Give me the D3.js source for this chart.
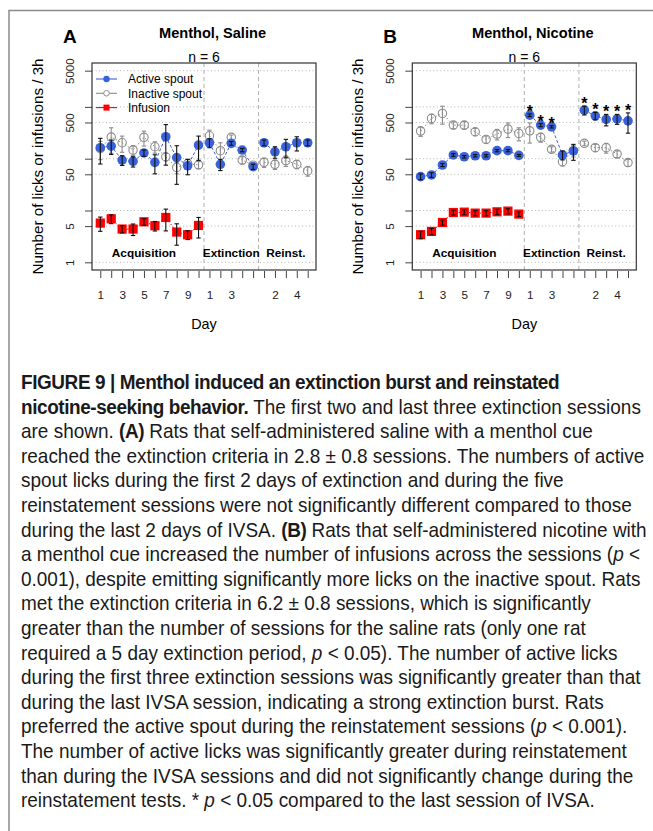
<!DOCTYPE html>
<html>
<head>
<meta charset="utf-8">
<script src="https://cdn.jsdelivr.net/npm/d3@7"></script>
<style>
  body { margin: 0; background: #fff; }
  svg { display: block; font-family: "Liberation Sans", Arial, sans-serif; }
</style>
</head>
<body>
<script>
// x categories: 10 acquisition, 5 extinction, 5 reinstatement sessions
const days = [1, 2, 3, 4, 5, 6, 7, 8, 9, 10, 11, 12, 13, 14, 15, 16, 17, 18, 19, 20];
const dayLabels = ["1", "", "3", "", "5", "", "7", "", "9", "", "1", "", "3", "", "", "", "2", "", "4", ""];
const phaseNames = ["Acquisition", "Extinction", "Reinst."];
const phaseCenters = [5, 13, 18];
const phaseBreaks = [10.5, 15.5];
const phaseRuns = [[1, 10], [11, 15], [16, 20]];
const yTicks = [1, 5, 10, 50, 100, 500, 1000, 5000];
const yTickLabels = [1, 5, 50, 500, 5000];

// A: menthol + saline
const salineActive = [163, 175, 94, 89, 129, 85, 265, 105, 73, 183, 203, 78, 198, 147, 70, 203, 136, 170, 203, 203];
const salineActiveSem = [84, 54, 20, 20, 18, 34, 190, 73, 24, 90, 40, 19, 16, 11, 8, 26, 34, 66, 62, 26];
const salineInactive = [156, 261, 203, 147, 258, 170, 109, 68, 80, 76, 277, 143, 258, 94, 75, 85, 78, 92, 78, 58];
const salineInactiveSem = [60, 134, 70, 31, 83, 42, 18, 17, 17, 12, 79, 60, 28, 15, 9, 17, 16, 21, 14, 12];
const salineInfusion = [5.72, 6.92, 4.39, 4.39, 6.06, 5.08, 7.34, 3.84, 3.41, 5.15];
const salineInfusionSem = [1.75, 1.34, 0.7, 1.1, 0.86, 1.06, 3.3, 1.7, 0.66, 2.2];

// B: menthol + nicotine
const nicotineActive = [45, 48.6, 75.6, 118, 109, 114, 114, 143, 143, 116, 692, 445, 412, 118, 141, 864, 671, 573, 588, 538];
const nicotineActiveSem = [5.7, 5, 5, 7, 6, 6, 6, 7, 7, 5, 40, 30, 20, 23, 48, 166, 110, 143, 128, 227];
const nicotineInactive = [341, 598, 747, 445, 445, 331, 236, 299, 373, 308, 345, 258, 152, 87.5, 143, 198, 163, 163, 123, 84];
const nicotineInactiveSem = [71, 126, 283, 69, 75, 54, 37, 69, 117, 87, 145, 50, 18, 15, 35, 20, 26, 35, 18, 13];
const nicotineInfusion = [3.41, 3.95, 5.88, 9.15, 9.3, 8.91, 8.91, 9.44, 9.73, 8.53];
const nicotineInfusionSem = [0.55, 0.55, 0.7, 1.0, 1.0, 1.0, 1.0, 1.1, 1.1, 0.9];
const nicotineStars = [11, 12, 13, 16, 17, 18, 19, 20];

const blue = "#3a62d8";
const grey = "#8c8c8c";
const red = "#ff0000";

const svg = d3.select("body").append("svg")
    .attr("width", 653)
    .attr("height", 831);

svg.append("path")
    .attr("d", "M9,831 V10.5 H653")
    .attr("fill", "none")
    .attr("stroke", "#8a8a8a")
    .attr("stroke-width", 1.5);

const panels = [
    { letter: "A", title: "Menthol, Saline", left: 92, active: salineActive, activeSem: salineActiveSem,
      inactive: salineInactive, inactiveSem: salineInactiveSem, infusion: salineInfusion, infusionSem: salineInfusionSem,
      stars: [], legend: true },
    { letter: "B", title: "Menthol, Nicotine", left: 412.3, active: nicotineActive, activeSem: nicotineActiveSem,
      inactive: nicotineInactive, inactiveSem: nicotineInactiveSem, infusion: nicotineInfusion, infusionSem: nicotineInfusionSem,
      stars: nicotineStars, legend: false }
];

const plotW = 224, plotTop = 63, plotBottom = 270;

panels.forEach(p => {
    const x = d3.scaleLinear().domain([0.24, 20.76]).range([p.left, p.left + plotW]);
    const y = d3.scaleLog().domain([0.711, 7030]).range([plotBottom, plotTop]);
    const g = svg.append("g");
    const cx = p.left + plotW / 2;

    // grid
    g.selectAll(".grid").data(yTicks).enter().append("line")
        .attr("x1", p.left).attr("x2", p.left + plotW)
        .attr("y1", d => y(d)).attr("y2", d => y(d))
        .attr("stroke", "#b5b5b5").attr("stroke-dasharray", "1,2.5");
    g.selectAll(".brk").data(phaseBreaks).enter().append("line")
        .attr("x1", d => x(d)).attr("x2", d => x(d))
        .attr("y1", plotTop).attr("y2", plotBottom)
        .attr("stroke", "#b0b0b0").attr("stroke-dasharray", "4,3");

    // axes
    const yAxis = d3.axisLeft(y).tickValues(yTicks).tickSize(7)
        .tickFormat(d => yTickLabels.includes(d) ? d : "");
    const ya = g.append("g").attr("transform", `translate(${p.left},0)`).call(yAxis);
    ya.select(".domain").remove();
    ya.selectAll("line").attr("stroke", "#444");
    ya.selectAll("text")
        .attr("x", -22).attr("y", 0).attr("dy", "0.35em")
        .attr("transform", "rotate(-90,-22,0)")
        .attr("text-anchor", "middle").attr("fill", "#222")
        .style("font-size", "11.5px").style("font-family", "Liberation Sans, Arial, sans-serif");

    const xAxis = d3.axisBottom(x).tickValues(days).tickSize(7).tickPadding(13)
        .tickFormat((d, i) => dayLabels[i]);
    const xa = g.append("g").attr("transform", `translate(0,${plotBottom + 1})`).call(xAxis);
    xa.select(".domain").remove();
    xa.selectAll("line").attr("stroke", "#444");
    xa.selectAll("text").attr("fill", "#222").style("font-size", "11.7px").style("font-family", "Liberation Sans, Arial, sans-serif");

    g.append("rect")
        .attr("x", p.left).attr("y", plotTop).attr("width", plotW).attr("height", plotBottom - plotTop)
        .attr("fill", "none").attr("stroke", "#333").attr("stroke-width", 1.2);

    // phase labels
    g.selectAll(".phase").data(phaseNames).enter().append("text")
        .attr("x", (d, i) => x(phaseCenters[i])).attr("y", 257)
        .attr("text-anchor", "middle").style("font-weight", "bold").style("font-size", "11.8px")
        .text(d => d);

    // connecting lines, split by phase
    const runs = (vals) => phaseRuns
        .map(([a, b]) => days.filter(d => d >= a && d <= b && d <= vals.length).map(d => [d, vals[d - 1]]))
        .filter(r => r.length > 1);
    const line = d3.line().x(d => x(d[0])).y(d => y(d[1]));
    g.selectAll(".lin").data(runs(p.inactive)).enter().append("path")
        .attr("d", line).attr("fill", "none").attr("stroke", grey).attr("stroke-dasharray", "1.5,2");
    g.selectAll(".lia").data(runs(p.infusion)).enter().append("path")
        .attr("d", line).attr("fill", "none").attr("stroke", red).attr("stroke-dasharray", "1.5,2");
    g.selectAll(".lac").data(runs(p.active)).enter().append("path")
        .attr("d", line).attr("fill", "none").attr("stroke", blue).attr("stroke-dasharray", "3,2");

    const errBars = (vals, sems, color) => {
        const eg = g.append("g").attr("stroke", color).attr("stroke-width", 1.1);
        vals.forEach((v, i) => {
            const xx = x(days[i]);
            const lo = y(Math.max(v - sems[i], 0.8)), hi = y(v + sems[i]);
            eg.append("line").attr("x1", xx).attr("x2", xx).attr("y1", lo).attr("y2", hi);
            eg.append("line").attr("x1", xx - 2.2).attr("x2", xx + 2.2).attr("y1", hi).attr("y2", hi);
            eg.append("line").attr("x1", xx - 2.2).attr("x2", xx + 2.2).attr("y1", lo).attr("y2", lo);
        });
    };

    // inactive
    g.selectAll(".pin").data(p.inactive).enter().append("circle")
        .attr("cx", (d, i) => x(days[i])).attr("cy", d => y(d)).attr("r", 4.2)
        .attr("fill", "none").attr("stroke", grey).attr("stroke-width", 1.1);
    errBars(p.inactive, p.inactiveSem, grey);

    // infusions
    g.selectAll(".pif").data(p.infusion).enter().append("rect")
        .attr("x", (d, i) => x(days[i]) - 4.6).attr("y", d => y(d) - 4.6)
        .attr("width", 9.2).attr("height", 9.2).attr("fill", red);
    errBars(p.infusion, p.infusionSem, "#111");

    // active
    g.selectAll(".pac").data(p.active).enter().append("circle")
        .attr("cx", (d, i) => x(days[i])).attr("cy", d => y(d)).attr("r", 4.8)
        .attr("fill", blue);
    errBars(p.active, p.activeSem, "#111");

    // significance
    g.selectAll(".star").data(p.stars).enter().append("text")
        .attr("x", d => x(d)).attr("y", d => y(p.active[d - 1] + p.activeSem[d - 1]) + 3)
        .attr("text-anchor", "middle").style("font-weight", "bold").style("font-size", "16px")
        .text("*");

    // titles
    svg.append("text").attr("x", cx + 8.5).attr("y", 38).attr("text-anchor", "middle")
        .style("font-weight", "bold").style("font-size", "14.6px").text(p.title);
    svg.append("text").attr("x", p.left - 29).attr("y", 43)
        .style("font-weight", "bold").style("font-size", "19px").text(p.letter);
    svg.append("text").attr("x", cx).attr("y", 61.5).attr("text-anchor", "middle")
        .style("font-size", "14px").text("n = 6");
    svg.append("text").attr("x", cx).attr("y", 329).attr("text-anchor", "middle")
        .style("font-size", "14.4px").text("Day");
    svg.append("text").attr("transform", `translate(${p.left - 54.5},166.5) rotate(-90)`)
        .attr("dy", "0.35em").attr("text-anchor", "middle")
        .style("font-size", "15.2px").text("Number of licks or infusions / 3h");

    if (p.legend) {
        const items = [
            { name: "Active spout", color: blue, shape: "dot" },
            { name: "Inactive spout", color: grey, shape: "ring" },
            { name: "Infusion", color: red, shape: "square" }
        ];
        const lg = svg.append("g");
        items.forEach((it, i) => {
            const ly = 79 + i * 14.3;
            lg.append("line").attr("x1", 96).attr("x2", 117).attr("y1", ly).attr("y2", ly)
                .attr("stroke", it.color).attr("stroke-width", 1.1);
            if (it.shape === "dot") lg.append("circle").attr("cx", 106.5).attr("cy", ly).attr("r", 3.2).attr("fill", it.color);
            if (it.shape === "ring") lg.append("circle").attr("cx", 106.5).attr("cy", ly).attr("r", 2.8)
                .attr("fill", "#fff").attr("stroke", it.color);
            if (it.shape === "square") lg.append("rect").attr("x", 103.5).attr("y", ly - 3).attr("width", 6).attr("height", 6).attr("fill", it.color);
            lg.append("text").attr("x", 128).attr("y", ly + 4.3).style("font-size", "12px").text(it.name);
        });
    }
});

// caption
const caption = [
    [["b", "FIGURE 9 | Menthol induced an extinction burst and reinstated"]],
    [["b", "nicotine-seeking behavior."], ["n", " The first two and last three extinction sessions"]],
    [["n", "are shown. "], ["b", "(A)"], ["n", " Rats that self-administered saline with a menthol cue"]],
    [["n", "reached the extinction criteria in 2.8 ± 0.8 sessions. The numbers of active"]],
    [["n", "spout licks during the first 2 days of extinction and during the five"]],
    [["n", "reinstatement sessions were not significantly different compared to those"]],
    [["n", "during the last 2 days of IVSA. "], ["b", "(B)"], ["n", " Rats that self-administered nicotine with"]],
    [["n", "a menthol cue increased the number of infusions across the sessions ("], ["i", "p"], ["n", " <"]],
    [["n", "0.001), despite emitting significantly more licks on the inactive spout. Rats"]],
    [["n", "met the extinction criteria in 6.2 ± 0.8 sessions, which is significantly"]],
    [["n", "greater than the number of sessions for the saline rats (only one rat"]],
    [["n", "required a 5 day extinction period, "], ["i", "p"], ["n", " < 0.05). The number of active licks"]],
    [["n", "during the first three extinction sessions was significantly greater than that"]],
    [["n", "during the last IVSA session, indicating a strong extinction burst. Rats"]],
    [["n", "preferred the active spout during the reinstatement sessions ("], ["i", "p"], ["n", " < 0.001)."]],
    [["n", "The number of active licks was significantly greater during reinstatement"]],
    [["n", "than during the IVSA sessions and did not significantly change during the"]],
    [["n", "reinstatement tests. * "], ["i", "p"], ["n", " < 0.05 compared to the last session of IVSA."]]
];
// the caption face is a condensed sans; squeeze Liberation Sans horizontally to match
const cap = svg.append("g").style("font-family", "'Liberation Sans', Arial, sans-serif")
    .style("font-size", "20.5px").attr("fill", "#1a1a1a");
const capLines = caption.map((parts, i) => {
    const t = cap.append("text").attr("x", 0).attr("y", 389 + i * 24.6);
    parts.forEach(([k, s]) => {
        const ts = t.append("tspan").text(s);
        if (k === "b") ts.style("font-weight", "bold").style("letter-spacing", "-0.45px");
        if (k === "i") ts.style("font-style", "italic");
    });
    return t;
});
const squeeze = (641 - 21) / capLines[12].node().getComputedTextLength();
cap.attr("transform", `translate(21,0) scale(${squeeze},1)`);
</script>
</body>
</html>
